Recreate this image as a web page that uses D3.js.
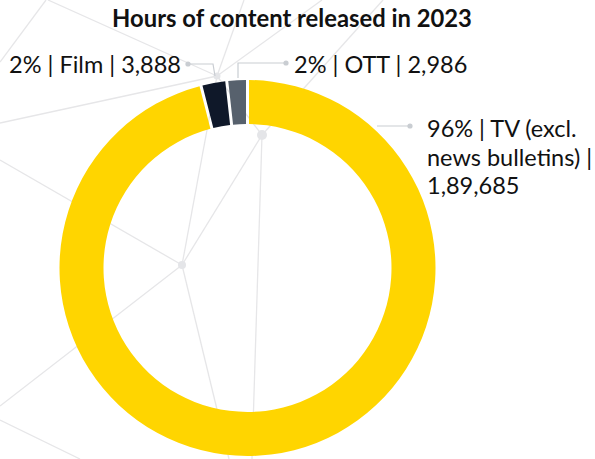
<!DOCTYPE html>
<html>
<head>
<meta charset="utf-8">
<script src="https://cdn.jsdelivr.net/npm/d3@7"></script>
<style>
  html, body { margin: 0; padding: 0; background: #ffffff; }
  svg { display: block; }
</style>
</head>
<body>
<svg id="chart" width="595" height="459"></svg>
<script>
// ---- data ----
const title = "Hours of content released in 2023";
const categories = ["TV (excl. news bulletins)", "Film", "OTT"];
const values = [189685, 3888, 2986];
const pctLabels = ["96%", "2%", "2%"];
const valueLabels = ["1,89,685", "3,888", "2,986"];
const labelLines = [
  ["96% | TV (excl.", "news bulletins) |", "1,89,685"],
  ["2% | Film | 3,888"],
  ["2% | OTT | 2,986"]
];
const colors = ["#FFD500", "#0f1829", "#57616d"];

// ---- decorative background network ----
const netNodes = [[182, 265, 4], [262, 135, 5], [217, 76, 3.5]];
const netLines = [
  [[46, 0], [0, 62]],
  [[48, 0], [217, 76]],
  [[0, 123], [217, 76]],
  [[217, 76], [244, 0]],
  [[217, 76], [322, 0]],
  [[217, 76], [182, 265]],
  [[217, 76], [262, 135]],
  [[262, 135], [383, 0]],
  [[262, 135], [182, 265]],
  [[262, 135], [252, 459]],
  [[182, 265], [0, 160]],
  [[182, 265], [0, 406]],
  [[182, 265], [229, 459]],
  [[0, 420], [80, 459]]
];

const svg = d3.select("#chart");
const cx = 247.5, cy = 268, rOuter = 188, rInner = 144;

// background network
const bg = svg.append("g");
bg.selectAll("line").data(netLines).join("line")
  .attr("x1", d => d[0][0]).attr("y1", d => d[0][1])
  .attr("x2", d => d[1][0]).attr("y2", d => d[1][1])
  .attr("stroke", "#e6e6e8").attr("stroke-width", 1.3);
bg.selectAll("circle").data(netNodes).join("circle")
  .attr("cx", d => d[0]).attr("cy", d => d[1]).attr("r", d => d[2])
  .attr("fill", "#e4e5e8");

// donut
const pie = d3.pie().sort(null).value(d => d.value).startAngle(0).endAngle(2 * Math.PI)
  .padAngle(3 / rOuter);
const arc = d3.arc().innerRadius(rInner).outerRadius(rOuter).padRadius(rOuter);
const data = categories.map((c, i) => ({ cat: c, value: values[i], color: colors[i] }));
const g = svg.append("g").attr("transform", `translate(${cx},${cy})`);
g.selectAll("path").data(pie(data)).join("path")
  .attr("d", arc)
  .attr("fill", d => d.data.color);

// title
svg.append("text")
  .attr("x", 292).attr("y", 27)
  .attr("text-anchor", "middle")
  .attr("font-family", "Lato, 'Open Sans', sans-serif")
  .attr("font-weight", 700)
  .attr("font-size", 23.8)
  .attr("fill", "#111")
  .text(title);

// leader lines
const leaderColor = "#c9cdd2";
const leaders = svg.append("g").attr("fill", "none").attr("stroke", leaderColor).attr("stroke-width", 1.2);
leaders.append("polyline").attr("points", "188,64 213,64 215,76");   // Film
leaders.append("polyline").attr("points", "238,78 238,63 286,63");   // OTT
leaders.append("line").attr("x1", 377).attr("y1", 126).attr("x2", 410).attr("y2", 126); // TV
svg.selectAll("circle.ldot").data([[188, 64], [286, 63], [410, 126]]).join("circle")
  .attr("class", "ldot")
  .attr("cx", d => d[0]).attr("cy", d => d[1]).attr("r", 2.6).attr("fill", leaderColor);

// labels
const labelFont = "Lato, 'Open Sans', sans-serif";
const labelSize = 23.5;
function addLabel(lines, x, y, anchor) {
  const t = svg.append("text")
    .attr("x", x).attr("y", y)
    .attr("text-anchor", anchor)
    .attr("font-family", labelFont)
    .attr("font-size", labelSize)
    .attr("fill", "#111");
  lines.forEach((ln, i) => {
    t.append("tspan").attr("x", x).attr("dy", i === 0 ? 0 : 28.5).text(ln);
  });
}
addLabel(labelLines[1], 181, 73, "end");
addLabel(labelLines[2], 294, 73, "start");
addLabel(labelLines[0], 427, 137, "start");
</script>
</body>
</html>
